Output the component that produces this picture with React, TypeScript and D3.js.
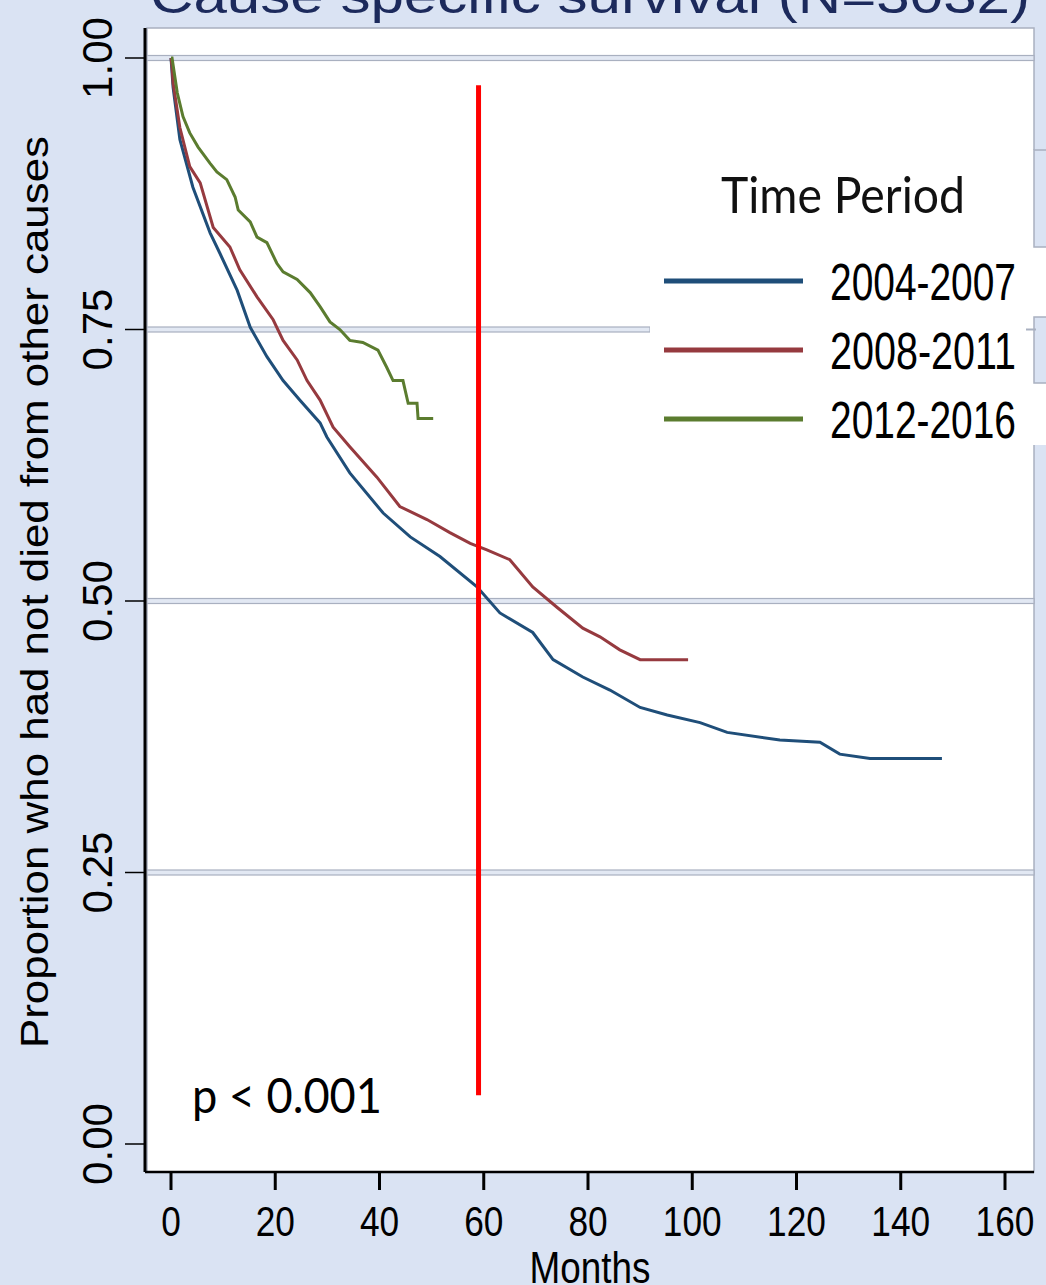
import React from "react";
import * as d3 from "d3";

// ---------------- data
const blueMonths = [0, 0.4, 1.7, 4.2, 7.5, 9.4, 12.7, 15.2, 18.4, 21.5, 24.7, 28.6, 29.9, 34.3, 40.7, 45.9, 51.6, 58.7, 63.1, 69.4, 73.3, 79.0, 84.2, 90.0, 95.2, 101.5, 106.7, 116.8, 124.5, 128.3, 134.1, 147.9];
const blueSurv = [1.0, 0.973, 0.925, 0.881, 0.839, 0.82, 0.786, 0.752, 0.725, 0.703, 0.685, 0.664, 0.651, 0.618, 0.581, 0.559, 0.541, 0.513, 0.489, 0.471, 0.446, 0.43, 0.418, 0.402, 0.395, 0.388, 0.379, 0.372, 0.37, 0.359, 0.355, 0.355];

const redMonths = [0, 0.2, 0.4, 1.7, 3.6, 5.6, 8.1, 11.3, 13.2, 16.5, 19.6, 21.5, 24.2, 26.1, 28.6, 31.1, 34.3, 39.5, 43.9, 49.1, 53.5, 57.4, 60.6, 65.0, 69.4, 74.1, 79.0, 82.3, 86.1, 90.0, 99.2];
const redSurv = [1.0, 0.992, 0.977, 0.936, 0.9, 0.885, 0.844, 0.826, 0.805, 0.78, 0.759, 0.74, 0.722, 0.703, 0.685, 0.66, 0.642, 0.614, 0.587, 0.575, 0.563, 0.553, 0.547, 0.538, 0.513, 0.494, 0.475, 0.467, 0.455, 0.446, 0.446];

const greenMonths = [0, 0.2, 1.2, 2.3, 3.6, 5.2, 7.5, 8.8, 10.7, 12.3, 12.9, 15.2, 16.5, 18.4, 20.3, 21.5, 24.2, 26.7, 28.6, 30.5, 32.4, 34.3, 36.8, 39.7, 41.4, 42.6, 44.5, 45.5, 47.2, 47.4, 50.3];
const greenSurv = [1.0, 1.0, 0.968, 0.946, 0.931, 0.918, 0.903, 0.895, 0.888, 0.872, 0.86, 0.849, 0.835, 0.83, 0.811, 0.803, 0.796, 0.784, 0.771, 0.757, 0.75, 0.74, 0.738, 0.731, 0.715, 0.703, 0.703, 0.682, 0.682, 0.668, 0.668];

const seriesNames = ["2004-2007", "2008-2011", "2012-2016"];
const seriesColors = ["#1f4e79", "#963a3f", "#5b7c2f"];
const xTicks = [0, 20, 40, 60, 80, 100, 120, 140, 160];
const yTicks = [0, 0.25, 0.5, 0.75, 1];
const yTickLabels = ["0.00", "0.25", "0.50", "0.75", "1.00"];
const gridTicks = [0.25, 0.5, 1];
const cutoffMonth = 59;
const cutoffRange = [0.045, 0.975];

const W = 1046;
const H = 1285;
const bg = "#dae3f3";
const gridStroke = "#a9b0c0";
const gridFill = "#e2e8f3";
const sans = "'Liberation Sans', Arial, sans-serif";
const humanist = "Lato, 'Open Sans', sans-serif";

// arial squeezed sideways, like the narrow labels of the original
const Narrow = ({ x, y, size, children, anchor = "start" }) => (
   <text
      transform={`translate(${x}, ${y}) scale(0.82, 1)`}
      textAnchor={anchor}
      fontFamily={sans}
      fontSize={size}
      fill="#000"
   >
      {children}
   </text>
);

const App = () => {
   // ---------------------- scale
   const x = d3.scaleLinear().domain([0, 160]).range([171, 1005]);
   const y = d3.scaleLinear().domain([0, 1]).range([1144, 58]);

   const line = d3
      .line<[number, number]>()
      .x(d => x(d[0]))
      .y(d => y(d[1]));

   const series = [
      { months: blueMonths, surv: blueSurv },
      { months: redMonths, surv: redSurv },
      { months: greenMonths, surv: greenSurv }
   ].map(s => s.months.map((m, i) => [m, s.surv[i]] as [number, number]));

   const plot = { left: 147, right: 1034, top: 28, bottom: 1172 };

   return (
      <svg
         width={W}
         height={H}
         style={{ position: "absolute", left: 0, top: 0, display: "block" }}
      >
         <rect width={W} height={H} fill={bg} />

         {/* title, cut off at the top */}
         <text
            x={150}
            y={13}
            fontFamily={sans}
            fontSize={50}
            fill="#1c2a5c"
            textLength={880}
            lengthAdjust="spacingAndGlyphs"
         >
            Cause specific survival (N=3032)
         </text>

         {/* plot area */}
         <rect
            x={plot.left}
            y={plot.top}
            width={plot.right - plot.left}
            height={plot.bottom - plot.top}
            fill="#fff"
            stroke={gridStroke}
            strokeWidth={1.5}
         />

         {/* grid */}
         {gridTicks.map(t => (
            <rect
               key={t}
               x={plot.left}
               y={y(t) - 2.5}
               width={plot.right - plot.left}
               height={5}
               fill={gridFill}
               stroke={gridStroke}
               strokeWidth={1.2}
            />
         ))}
         <rect
            x={plot.left}
            y={y(0.75) - 2.5}
            width={650 - plot.left}
            height={5}
            fill={gridFill}
            stroke={gridStroke}
            strokeWidth={1.2}
         />

         {/* curves */}
         {series.map((d, i) => (
            <path
               key={i}
               d={line(d) || ""}
               fill="none"
               stroke={seriesColors[i]}
               strokeWidth={3}
               strokeLinejoin="miter"
            />
         ))}

         {/* 60 month marker */}
         <line
            x1={x(cutoffMonth)}
            x2={x(cutoffMonth)}
            y1={y(cutoffRange[1])}
            y2={y(cutoffRange[0])}
            stroke="#ff0000"
            strokeWidth={5}
         />

         {/* legend */}
         <rect x={650} y={150} width={W - 650} height={295} fill="#fff" />
         <rect x={1034} y={150} width={14} height={97} fill={bg} stroke={gridStroke} strokeWidth={1.5} />
         <rect x={1034} y={317} width={14} height={66} fill={bg} stroke={gridStroke} strokeWidth={1.5} />
         <line x1={1026} x2={1036} y1={y(0.75)} y2={y(0.75)} stroke={gridStroke} strokeWidth={2} />
         <text
            x={721}
            y={213}
            fontFamily={humanist}
            fontSize={50}
            fill="#111"
            textLength={244}
            lengthAdjust="spacingAndGlyphs"
         >
            Time Period
         </text>
         {seriesNames.map((name, i) => (
            <g key={name} transform={`translate(0, ${281 + i * 69})`}>
               <line x1={664} x2={803} y1={0} y2={0} stroke={seriesColors[i]} strokeWidth={5} />
               <text
                  x={830}
                  y={19}
                  fontFamily={sans}
                  fontSize={52}
                  fill="#000"
                  textLength={186}
                  lengthAdjust="spacingAndGlyphs"
               >
                  {name}
               </text>
            </g>
         ))}

         {/* p value */}
         <text
            x={192}
            y={1113}
            fontFamily={humanist}
            fontSize={48}
            fill="#000"
            textLength={190}
            lengthAdjust="spacingAndGlyphs"
         >
            p &lt; 0.001
         </text>

         {/* y axis */}
         <line x1={145} x2={145} y1={plot.top} y2={plot.bottom} stroke="#000" strokeWidth={3} />
         {yTicks.map((t, i) => (
            <g key={t}>
               <line x1={125} x2={145} y1={y(t)} y2={y(t)} stroke="#000" strokeWidth={1.5} />
               <text
                  transform={`translate(112, ${y(t)}) rotate(-90)`}
                  textAnchor="middle"
                  fontFamily={sans}
                  fontSize={42}
                  fill="#000"
               >
                  {yTickLabels[i]}
               </text>
            </g>
         ))}
         <text
            transform={`translate(48, 592) rotate(-90)`}
            textAnchor="middle"
            fontFamily={sans}
            fontSize={38}
            fill="#000"
            textLength={912}
            lengthAdjust="spacingAndGlyphs"
         >
            Proportion who had not died from other causes
         </text>

         {/* x axis */}
         <line x1={145} x2={plot.right} y1={plot.bottom} y2={plot.bottom} stroke="#000" strokeWidth={2.5} />
         {xTicks.map(t => (
            <g key={t}>
               <line x1={x(t)} x2={x(t)} y1={plot.bottom} y2={1190} stroke="#000" strokeWidth={3} />
               <Narrow x={x(t)} y={1236} size={43} anchor="middle">
                  {t}
               </Narrow>
            </g>
         ))}
         <Narrow x={590} y={1283} size={45} anchor="middle">
            Months
         </Narrow>
      </svg>
   );
};

export default App;
